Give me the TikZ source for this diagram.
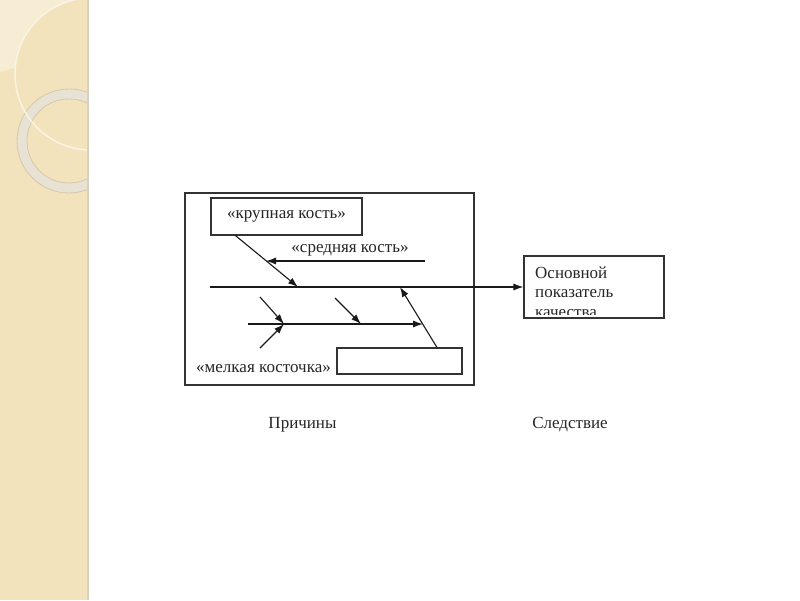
\documentclass[tikz,border=0pt]{standalone}
\usepackage{fontspec}
\setmainfont{Liberation Serif}
\usetikzlibrary{arrows.meta}
\definecolor{strip}{HTML}{F2E3BD}
\definecolor{patch}{HTML}{F6EDD4}
\definecolor{ring}{HTML}{E8E2D4}
\definecolor{ringedge}{HTML}{D5C9AC}
\definecolor{stripedge}{HTML}{D9D2C0}
\begin{document}
\begin{tikzpicture}[x=1pt,y=-1pt,
        box/.style={draw=black!80,line width=1.1pt,inner sep=0pt},
        bone/.style={black!90,line width=1.1pt,-{Latex[length=10pt,width=7pt]}},
        lbl/.style={font=\fontsize{17}{19.5}\selectfont,inner sep=0pt,text=black!85}]
    \useasboundingbox (0,0) rectangle (800,600);
    \fill[white] (0,0) rectangle (800,600);

    % left strip
    \begin{scope}
        \clip (0,0) rectangle (87,600);
        \fill[strip] (0,0) rectangle (87,600);
        \begin{scope}
            \clip (0,0) -- (0,72) .. controls (15,68) and (30,63) .. (45,60) -- (87,60) -- (87,0) -- cycle;
            \fill[patch,even odd rule] (0,-5) rectangle (87,80) (91,74) circle[radius=76pt];
        \end{scope}
        \fill[ring,even odd rule] (69,141) circle[radius=52pt] (69,141) circle[radius=42pt];
        \draw[ringedge,line width=0.8pt] (69,141) circle[radius=52pt] (69,141) circle[radius=42pt];
        \draw[white!60!strip,line width=1.5pt] (91,74) circle[radius=76pt];
    \end{scope}
    \draw[stripedge,line width=2pt] (88,0) -- (88,600);

    % boxes and texts
    \node[box,minimum width=289pt,minimum height=192pt] (frame) at (329.5,289) {};
    \node[box,lbl,minimum width=151pt,minimum height=37pt] (big) at (286.5,216.5) {«крупная кость»};
    \node[box,minimum width=125pt,minimum height=26pt] (small) at (399.5,361) {};
    \node[box,minimum width=140pt,minimum height=62pt] (effect) at (594,287) {};
    \node[lbl,anchor=base] (midtext) at (350,252) {«средняя кость»};
    \node[lbl,anchor=base] (tinytext) at (263.5,372) {«мелкая косточка»};
    \node[lbl,anchor=base] (causes) at (302.5,428) {Причины};
    \node[lbl,anchor=base] (result) at (570,428) {Следствие};
    \begin{scope}
        \clip ([xshift=1pt,yshift=-1pt]effect.north west) rectangle ([xshift=-1pt,yshift=4pt]effect.south east);
        \node[lbl,align=left,anchor=base west] (quality) at (535,317) {Основной\\показатель\\качества};
    \end{scope}

    % bones
    \coordinate (spine) at (210,287);
    \coordinate (c1) at (298,287);
    \coordinate (c2) at (400,287);
    \coordinate (m0) at (425,261);
    \coordinate (m1) at (266,261);
    \coordinate (l0) at (248,324);
    \coordinate (l1) at (423,324);
    \coordinate (j1) at (284,324);
    \coordinate (j2) at (361,324);
    \coordinate (t1) at (260,297);
    \coordinate (t2) at (260,348);
    \coordinate (t3) at (335,298);

    \draw[bone] (spine) -- (effect.west);
    \draw[bone] ([xshift=25pt]big.south west) -- (c1);
    \draw[bone] (m0) -- (m1);
    \draw[bone] (l0) -- (l1);
    \draw[bone] ([xshift=37.5pt]small.north) -- (c2);
    \draw[bone] (t1) -- (j1);
    \draw[bone] (t2) -- (j1);
    \draw[bone] (t3) -- (j2);
\end{tikzpicture}
\end{document}
